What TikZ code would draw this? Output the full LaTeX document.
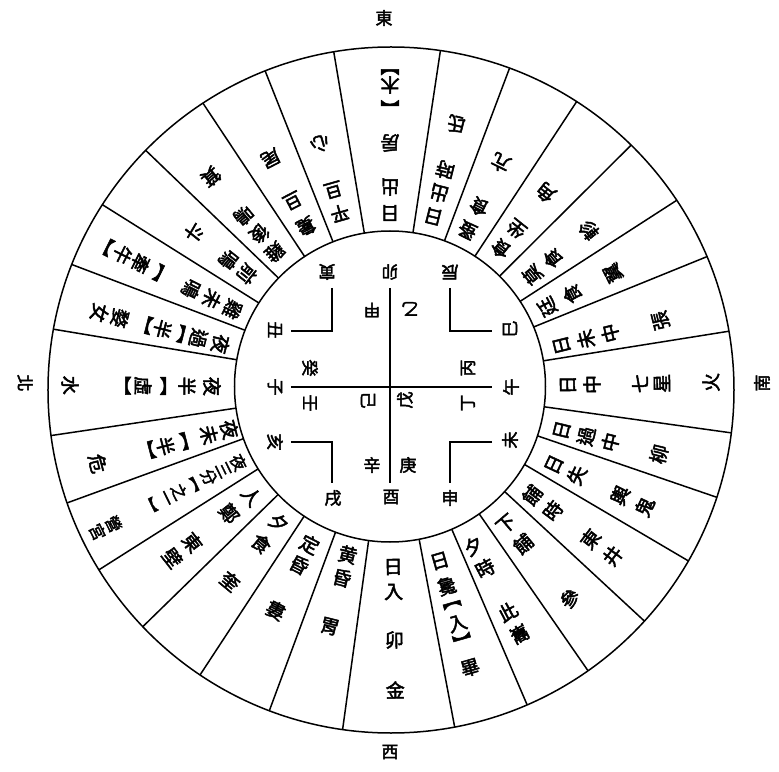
\documentclass[tikz,border=0pt]{standalone}
\usepackage{fontspec}
\newfontfamily\cjk[FakeBold=2.5]{Noto Sans CJK TC}
\newcommand\rt[6][]{%
  \foreach \c [count=\i] in {#6} {%
    \node[ch,#1,rotate={#3+90}] (#2-\i) at ({#3}:{#4+(\i-1)*#5}) {\c};
  }%
}
\begin{document}
\begin{tikzpicture}[x=1pt,y=1pt,line width=1.5pt,
  ch/.style={font=\cjk\fontsize{19}{19}\selectfont,inner sep=0pt},
  small/.style={font=\cjk\fontsize{16}{16}\selectfont},
  inch/.style={font=\cjk\fontsize{17}{17}\selectfont,inner sep=0pt}]
\useasboundingbox (-390,-383) rectangle (389,388);
\fill[white] (-390,-383) rectangle (389,388);
% circles
\coordinate (oc) at (1,-2);
\coordinate (ic) at (0,1.5);
\draw (oc) circle (343pt);
\draw (ic) circle (155.5pt);
% radial lines
\begin{scope}
\clip (oc) circle (343pt);
\foreach \b [count=\j] in {99.5,81.5,69.5,56.9,45.2,33.2,22.5,9.5,-7.5,-18.5,-30.1,-42.5,-55,-66.6,-79.2,-97.9,-110.5,-123.5,-136,-148,-160.4,-172,170.1,158.8,147.5,135.8,123.3,111.5}{
  \coordinate (bi\j) at ([shift={(\b:155.5)}]ic);
  \coordinate (bo\j) at (\b:352);
  \draw (bi\j) -- (bo\j);
}
\end{scope}
% ring texts
\rt{s1a}{90}{175}{26}{日,出}
\rt{s1b}{90}{245}{25}{房}
\rt{s1c}{90}{285}{18}{︻,木,︼}
\rt{s2a}{75.8}{177}{24}{日,出,時}
\rt{s2b}{75.8}{272}{25}{氐}
\rt{s3a}{63.8}{176}{26}{蚤,食}
\rt{s3b}{63.8}{251}{25}{亢}
\rt{s4a}{51.5}{178}{25}{食,坐}
\rt{s4b}{51.5}{250}{25}{角}
\rt{s5a}{38.5}{182}{26}{莫,食}
\rt{s5b}{38.5}{254}{25}{軫}
\rt{s6a}{27.3}{177}{28}{廷,食}
\rt{s6b}{27.3}{251}{25}{翼}
\rt{s7a}{14}{177}{25}{日,未,中}
\rt{s7b}{14}{279}{25}{張}
\rt{s8a}{1}{178}{24}{日,中}
\rt{s8b}{1}{250}{22}{七,星}
\rt{s8c}{1}{321}{25}{火}
\rt{s9a}{-13.8}{177}{25}{日,過,中}
\rt{s9b}{-13.8}{277}{25}{柳}
\rt{s10a}{-25}{181}{25}{日,失}
\rt{s10b}{-25}{254}{27}{輿,鬼}
\rt{s11a}{-37}{178}{26}{餔,時}
\rt{s11b}{-37}{251}{28}{東,井}
\rt{s12a}{-49.5}{179}{26}{下,餔}
\rt{s12b}{-49.5}{277}{25}{參}
\rt{s13a}{-62.2}{179}{25}{夕,時}
\rt{s13b}{-62.2}{253}{25}{此,巂}
\rt{s14a}{-74}{180}{26}{日,毚}
\rt{s14b}{-74}{226}{19}{︻,入,︼}
\rt{s14c}{-74}{291}{25}{畢}
\rt{s15a}{-89}{179}{25}{日,入}
\rt{s15b}{-89}{252}{25}{卯}
\rt{s15c}{-89}{302}{25}{金}
\rt{s16a}{-104.2}{172}{24}{黄,昏}
\rt{s16b}{-104.2}{246}{25}{胃}
\rt{s17a}{-117.2}{176}{23}{定,昏}
\rt{s17b}{-117.2}{250}{25}{婁}
\rt{s18a}{-129.6}{175}{27}{夕,食}
\rt{s18b}{-129.6}{251}{25}{奎}
\rt{s19a}{-142}{176}{28}{人,鄭}
\rt{s19b}{-142}{251}{25}{東,壁}
\rt[small]{s20a}{-153.8}{169}{16.5}{夜,三,分,︻,之,一,︼}
\rt[small]{s20b}{-153.8}{308}{18}{營,宮}
\rt{s21a}{-165.5}{166}{21}{夜,未}
\rt{s21b}{-165.5}{213}{19}{︻,半,︼}
\rt{s21c}{-165.5}{302}{25}{危}
\rt{s22a}{179.5}{178}{25}{夜,半}
\rt{s22b}{179.5}{227}{20}{︻,虛,︼}
\rt{s22c}{179.5}{320}{25}{水}
\rt{s23a}{165.5}{175}{23}{夜,過}
\rt{s23b}{165.5}{216}{19}{︻,半,︼}
\rt{s23c}{165.5}{279}{21}{婺,女}
\rt{s24a}{153.5}{176}{23}{雞,未,鳴}
\rt{s24b}{153.5}{259}{20}{︻,牽,牛,︼}
\rt{s25a}{141.5}{183}{23}{前,鳴}
\rt{s25b}{141.5}{250}{25}{斗}
\rt{s26a}{130.3}{178}{24}{雞,後,鳴}
\rt{s26b}{130.3}{277}{25}{箕}
\rt{s27a}{117.5}{182}{29}{毚,旦}
\rt{s27b}{117.5}{259}{25}{尾}
\rt{s28a}{106}{182}{24}{平,旦}
\rt{s28b}{106}{254}{25}{心}
% inner cross and corners
\coordinate (cn) at (0,100);
\coordinate (cs) at (0,-95);
\coordinate (cw) at (-99,1);
\coordinate (ce) at (102,1);
\draw (cn) -- (cs);
\draw (cw) -- (ce);
\draw (-58,100) -- (-58,57) -- (-99,57);
\draw (60,100) -- (60,57) -- (102,57);
\draw (-99,-54) -- (-58,-54) -- (-58,-95);
\draw (102,-54) -- (60,-54) -- (60,-95);
% branches
\node[inch,rotate=180] (mao) at (0,116) {卯};
\node[inch] (you) at (1,-109) {酉};
\node[inch,rotate=-90] (zi) at (-115,1) {子};
\node[inch,rotate=90] (wu) at (121,1) {午};
\node[inch,rotate=180] (yin) at (-63,116) {寅};
\node[inch,rotate=180] (chen) at (60,116) {辰};
\node[inch,rotate=-90] (chou) at (-115,58) {丑};
\node[inch,rotate=90] (si) at (120,59) {巳};
\node[inch,rotate=-90] (hai) at (-115,-54) {亥};
\node[inch,rotate=90] (wei) at (120,-52) {未};
\node[inch] (xu) at (-57,-110) {戌};
\node[inch] (shen) at (60,-110) {申};
% stems
\node[inch,rotate=180] (jia) at (-18,78) {甲};
\node[inch,rotate=180] (yi) at (20,79) {乙};
\node[inch,rotate=90] (bing) at (78,20) {丙};
\node[inch,rotate=90] (ding) at (78,-15) {丁};
\node[inch,rotate=-90] (gui) at (-80,20) {癸};
\node[inch,rotate=-90] (ren) at (-80,-15) {壬};
\node[inch,rotate=-90] (ji) at (-22,-12) {己};
\node[inch,rotate=90] (wuu) at (15,-12) {戊};
\node[inch] (xin) at (-18,-77) {辛};
\node[inch] (geng) at (18,-77) {庚};
% directions
\node[inch] (east) at (-6,370) {東};
\node[inch] (west) at (0,-364) {西};
\node[inch,rotate=-90] (north) at (-365,5) {北};
\node[inch,rotate=90] (south) at (372,5) {南};
\end{tikzpicture}
\end{document}
